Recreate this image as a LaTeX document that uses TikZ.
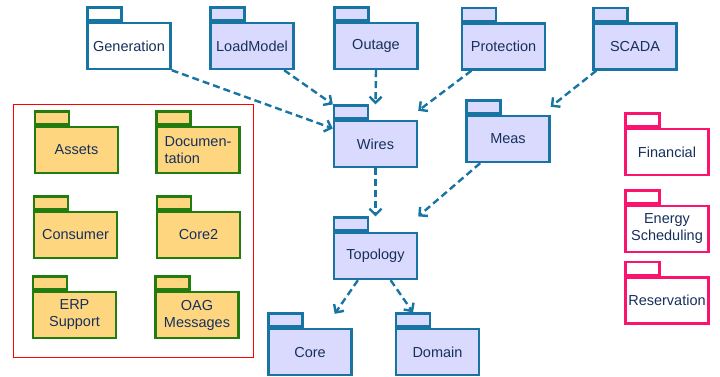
\documentclass[tikz,border=0pt]{standalone}
\usepackage{fontspec}
\setmainfont{Liberation Sans}
\usetikzlibrary{arrows.meta}

\definecolor{pkgblue}{RGB}{24,116,162}
\definecolor{pkgfill}{RGB}{218,218,255}
\definecolor{pkggreen}{RGB}{34,124,16}
\definecolor{pkgorange}{RGB}{255,214,128}
\definecolor{pkgpink}{RGB}{250,20,110}
\definecolor{pkgtext}{RGB}{22,48,92}

\begin{document}
\begin{tikzpicture}[x=1pt, y=-1pt,
  pkg/.style = {draw, line width=2.4pt, minimum width=83pt, minimum height=46pt,
                inner sep=1pt, text=pkgtext, align=center,
                font=\fontsize{14.5}{17}\selectfont},
  bluepkg/.style = {pkg, draw=pkgblue, fill=pkgfill},
  greenpkg/.style = {pkg, draw=pkggreen, fill=pkgorange},
  pinkpkg/.style = {pkg, draw=pkgpink, fill=white},
  tab/.style = {draw, line width=2.4pt, minimum width=34pt, minimum height=13pt,
                inner sep=0pt, anchor=south west},
  dep/.style = {draw=pkgblue, line width=2.4pt, dash pattern=on 7pt off 4pt,
                -{Straight Barb[length=6pt,width=12pt]}}]
\useasboundingbox (0,0) rectangle (720,376);

% top row
\node [pkg, draw=pkgblue, fill=white] (generation) at (129,46) {Generation};
\node [bluepkg] (loadmodel) at (252,46) {LoadModel};
\node [bluepkg] (outage) at (376,46) {Outage};
\node [bluepkg] (protection) at (503.5,46.5) {Protection};
\node [bluepkg] (scada) at (635,46.5) {SCADA};

% middle and bottom
\node [bluepkg] (wires) at (375.5,144) {Wires};
\node [bluepkg] (meas) at (508,139) {Meas};
\node [bluepkg] (topology) at (375.5,256) {Topology};
\node [bluepkg] (core) at (310,352) {Core};
\node [bluepkg] (domain) at (437.5,352) {Domain};

\node [tab, draw=pkgblue, fill=white] (generation-tab) at (generation.north west) {};
\foreach \n in {loadmodel, outage, protection, scada,
                wires, meas, topology, core, domain}
  \node [tab, draw=pkgblue, fill=pkgfill] (\n-tab) at (\n.north west) {};

% left group
\draw [red, line width=1pt] (13,104) rectangle (253,357);
\node [greenpkg] (assets) at (76.5,150) {Assets};
\node [greenpkg, align=left] (documentation) at (198,150) {Documen-\\tation};
\node [greenpkg] (consumer) at (75.5,235) {Consumer};
\node [greenpkg] (core2) at (198.5,235) {Core2};
\node [greenpkg] (erp) at (74.5,315) {ERP\\Support};
\node [greenpkg] (oag) at (197,315) {OAG\\Messages};

\foreach \n in {assets, documentation, consumer, core2, erp, oag}
  \node [tab, draw=pkggreen, fill=pkgorange] (\n-tab) at (\n.north west) {};

% right column
\node [pinkpkg] (financial) at (667,152) {Financial};
\node [pinkpkg] (energy) at (667,229) {Energy\\Scheduling};
\node [pinkpkg] (reservation) at (667,300.5) {Reservation};

\foreach \n in {financial, energy, reservation}
  \node [tab, draw=pkgpink, fill=white] (\n-tab) at (\n.north west) {};

% dependencies
\draw [dep] (generation.south east) -- (wires.160);
\draw [dep] (loadmodel.-37) -- (wires-tab.north west);
\draw [dep] (outage.south) -- (wires.north |- wires-tab.north);
\draw [dep] (protection.-143) -- ([yshift=9pt]wires.north east);
\draw [dep] (scada.-148) -- ([yshift=8pt]meas.north east);
\draw [dep] (wires.south) -- (topology.north |- topology-tab.north);
\draw [dep] (meas.-139) -- (topology.north east |- topology-tab.north);
\draw [dep] (topology.-126) -- ([xshift=-18pt,yshift=14pt]core.north east);
\draw [dep] (topology.-58) -- (domain-tab.north);
\end{tikzpicture}
\end{document}
